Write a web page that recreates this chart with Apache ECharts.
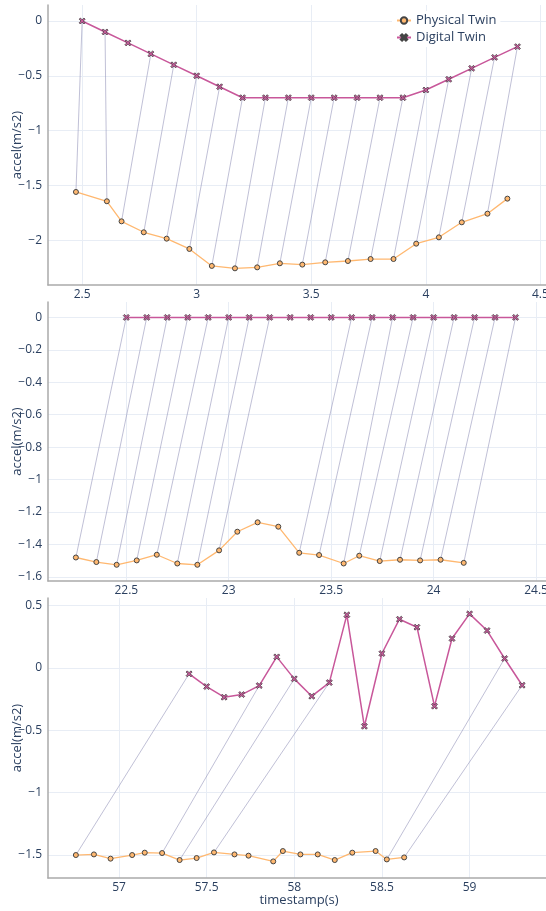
<!DOCTYPE html>
<html>
<head>
<meta charset="utf-8">
<script src="https://cdn.jsdelivr.net/npm/echarts@6/dist/echarts.min.js"></script>
<style>
  html, body { margin: 0; padding: 0; background: #fff; }
  #chart { width: 546px; height: 911px; }
</style>
</head>
<body>
<div id="chart"></div>
<script>
// panel 1
const phys1X = [2.473, 2.608, 2.672, 2.769, 2.869, 2.968, 3.066, 3.167, 3.264, 3.363, 3.461, 3.561, 3.660, 3.759, 3.859, 3.958, 4.057, 4.157, 4.269, 4.356];
const phys1Y = [-1.56, -1.645, -1.828, -1.928, -1.986, -2.08, -2.235, -2.257, -2.248, -2.211, -2.223, -2.202, -2.19, -2.172, -2.172, -2.032, -1.974, -1.837, -1.758, -1.621];
const dig1X = [2.5, 2.6, 2.7, 2.8, 2.9, 3.0, 3.1, 3.2, 3.3, 3.4, 3.5, 3.6, 3.7, 3.8, 3.9, 4.0, 4.1, 4.2, 4.3, 4.4];
const dig1Y = [0, -0.1, -0.2, -0.3, -0.4, -0.5, -0.6, -0.7, -0.7, -0.7, -0.7, -0.7, -0.7, -0.7, -0.7, -0.63, -0.532, -0.432, -0.332, -0.234];
const links1 = [[0, 0], [1, 1], [2, 3], [3, 4], [4, 5], [5, 6], [6, 7], [7, 8], [8, 9], [9, 10], [10, 11], [11, 12], [12, 13], [13, 14], [14, 15], [15, 16], [16, 17], [17, 18], [18, 19]];

// panel 2
const phys2X = [22.254, 22.354, 22.453, 22.551, 22.649, 22.749, 22.847, 22.953, 23.042, 23.141, 23.242, 23.344, 23.441, 23.561, 23.637, 23.737, 23.836, 23.934, 24.034, 24.147];
const phys2Y = [-1.481, -1.509, -1.526, -1.499, -1.464, -1.518, -1.526, -1.437, -1.322, -1.264, -1.291, -1.452, -1.466, -1.518, -1.47, -1.503, -1.495, -1.499, -1.495, -1.514];
const dig2X = [22.5, 22.6, 22.7, 22.8, 22.9, 23.0, 23.1, 23.2, 23.3, 23.4, 23.5, 23.6, 23.7, 23.8, 23.9, 24.0, 24.1, 24.2, 24.3, 24.4];
const dig2Y = [0, 0, 0, 0, 0, 0, 0, 0, 0, 0, 0, 0, 0, 0, 0, 0, 0, 0, 0, 0];
const links2 = [[0, 0], [1, 1], [2, 2], [3, 3], [4, 4], [5, 5], [6, 6], [7, 7], [11, 11], [12, 12], [13, 13], [14, 14], [15, 15], [16, 16], [17, 17], [18, 18], [19, 19]];

// panel 3
const phys3X = [56.754, 56.857, 56.952, 57.075, 57.147, 57.246, 57.346, 57.443, 57.542, 57.659, 57.739, 57.88, 57.935, 58.035, 58.134, 58.231, 58.331, 58.464, 58.528, 58.627];
const phys3Y = [-1.5, -1.495, -1.529, -1.5, -1.481, -1.484, -1.54, -1.524, -1.479, -1.495, -1.505, -1.551, -1.468, -1.495, -1.495, -1.54, -1.481, -1.468, -1.535, -1.519];
const dig3X = [57.4, 57.5, 57.6, 57.7, 57.8, 57.9, 58.0, 58.1, 58.2, 58.3, 58.4, 58.5, 58.6, 58.7, 58.8, 58.9, 59.0, 59.1, 59.2, 59.3];
const dig3Y = [-0.048, -0.15, -0.235, -0.214, -0.142, 0.088, -0.088, -0.227, -0.118, 0.425, -0.468, 0.115, 0.39, 0.326, -0.307, 0.235, 0.433, 0.299, 0.075, -0.139];
const links3 = [[0, 0], [5, 4], [6, 6], [8, 8], [18, 18], [19, 19]];

const xRanges = [[2.351, 4.542], [22.118, 24.568], [56.595, 59.459]];
const yRanges = [[-2.409, 0.146], [-1.626, 0.095], [-1.684, 0.56]];
const yStep = [0.5, 0.2, 0.5];

const font = 'Open Sans';
const textColor = '#2a3f5f';
const gridColor = '#e8edf5';
const axisColor = '#aaaaaa';
const orange = '#ffb870';
const pink = '#c8579a';
const xSymbol = 'path://M0,2L2,0L5,3L8,0L10,2L7,5L10,8L8,10L5,7L2,10L0,8L3,5Z';

const fmt = v => (v < 0 ? '\u2212' + String(-v) : String(v));
const pts = (xs, ys) => xs.map((x, i) => [x, ys[i]]);

const panels = [
  { px: phys1X, py: phys1Y, dx: dig1X, dy: dig1Y, links: links1 },
  { px: phys2X, py: phys2Y, dx: dig2X, dy: dig2Y, links: links2 },
  { px: phys3X, py: phys3Y, dx: dig3X, dy: dig3Y, links: links3 },
];

const grids = [
  { left: 48, top: 5, width: 502, height: 280 },
  { left: 48, top: 302, width: 502, height: 279 },
  { left: 48, top: 598, width: 502, height: 280 },
].map(g => Object.assign(g, { containLabel: false, outerBoundsMode: 'none' }));

const xAxes = panels.map((p, i) => ({
  type: 'value',
  gridIndex: i,
  min: xRanges[i][0],
  max: xRanges[i][1],
  minInterval: 0.5,
  maxInterval: 0.5,
  axisLine: { show: true, onZero: false, lineStyle: { color: axisColor, width: 1.5 } },
  axisTick: { show: false },
  splitLine: { show: true, showMinLine: false, showMaxLine: false, lineStyle: { color: gridColor, width: 1 } },
  axisLabel: { color: textColor, fontFamily: font, fontSize: 12, margin: 4, showMinLabel: false, showMaxLabel: false, formatter: fmt },
  name: i === 2 ? 'timestamp(s)' : '',
  nameLocation: 'middle',
  nameGap: 16,
  nameMoveOverlap: false,
  nameTextStyle: { color: textColor, fontFamily: font, fontSize: 13 },
}));

const yAxes = panels.map((p, i) => ({
  type: 'value',
  gridIndex: i,
  min: yRanges[i][0],
  max: yRanges[i][1],
  minInterval: yStep[i],
  maxInterval: yStep[i],
  axisLine: { show: true, onZero: false, lineStyle: { color: axisColor, width: 1.5 } },
  axisTick: { show: false },
  splitLine: { show: true, showMinLine: false, showMaxLine: false, lineStyle: { color: gridColor, width: 1 } },
  axisLabel: { color: textColor, fontFamily: font, fontSize: 12, margin: 6, showMinLabel: false, showMaxLabel: false, formatter: fmt },
  name: 'accel(m/s2)',
  nameLocation: 'middle',
  nameGap: 24,
  nameMoveOverlap: false,
  nameTextStyle: { color: textColor, fontFamily: font, fontSize: 13 },
}));

const series = [];
panels.forEach((p, i) => {
  series.push({
    type: 'lines',
    coordinateSystem: 'cartesian2d',
    xAxisIndex: i,
    yAxisIndex: i,
    silent: true,
    z: 1,
    lineStyle: { color: 'rgba(140,140,180,0.55)', width: 1, opacity: 1 },
    data: p.links.map(([a, b]) => ({ coords: [[p.px[a], p.py[a]], [p.dx[b], p.dy[b]]] })),
  });
  series.push({
    name: 'Physical Twin',
    type: 'line',
    xAxisIndex: i,
    yAxisIndex: i,
    z: 3,
    symbol: 'circle',
    symbolSize: 5,
    showAllSymbol: true,
    lineStyle: { color: orange, width: 1.3 },
    itemStyle: { color: orange, borderColor: '#444', borderWidth: 1 },
    data: pts(p.px, p.py),
  });
  series.push({
    name: 'Digital Twin',
    type: 'line',
    xAxisIndex: i,
    yAxisIndex: i,
    z: 4,
    symbol: xSymbol,
    symbolSize: 6,
    showAllSymbol: true,
    lineStyle: { color: pink, width: 1.5 },
    itemStyle: { color: pink, borderColor: '#444', borderWidth: 0.8 },
    data: pts(p.dx, p.dy),
  });
});

const chart = echarts.init(document.getElementById('chart'));
chart.setOption({
  animation: false,
  backgroundColor: '#fff',
  textStyle: { fontFamily: font },
  grid: grids,
  xAxis: xAxes,
  yAxis: yAxes,
  legend: {
    data: ['Physical Twin', 'Digital Twin'],
    orient: 'vertical',
    left: 392,
    top: 11,
    padding: [3, 4],
    itemWidth: 14,
    itemHeight: 8,
    itemGap: 4,
    backgroundColor: '#fff',
    textStyle: { color: textColor, fontFamily: font, fontSize: 13 },
  },
  series: series,
});
</script>
</body>
</html>
